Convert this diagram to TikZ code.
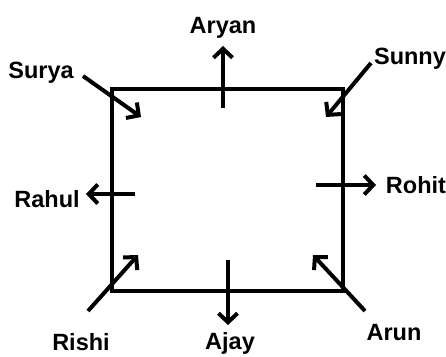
\documentclass[tikz,border=0pt]{standalone}
\usepackage{fontspec}
\setmainfont{Liberation Sans}
\usetikzlibrary{arrows.meta, positioning}
\tikzset {
  square/.style = {draw, line width=4.5pt, color=black},
  line/.style = {-{Straight Barb[length=9pt, width=19pt]}, line width=4pt, color=black},
  person/.style = {font=\bfseries\fontsize{23.5}{26}\selectfont, inner sep=0pt, anchor=base},
}

\begin{document}
\begin{tikzpicture}[x=1pt, y=-1pt]
    \useasboundingbox (0,0) rectangle (446,356);

    % the square
    \coordinate (nw) at (112,89);
    \coordinate (se) at (343,291);
    \draw[square] (nw) rectangle (se);

    % the eight people
    \node[person] (aryan) at (223,33) {Aryan};
    \node[person] (surya) at (41,78) {Surya};
    \node[person] (sunny) at (410,64) {Sunny};
    \node[person] (rahul) at (47,207) {Rahul};
    \node[person] (rohit) at (416,193) {Rohit};
    \node[person] (rishi) at (81,350) {Rishi};
    \node[person] (ajay) at (230,349) {Ajay};
    \node[person] (arun) at (394,340) {Arun};

    % where each one faces
    \coordinate (aryan-from) at (223,108);
    \coordinate (aryan-to) at (223,46);
    \coordinate (surya-from) at (83,76);
    \coordinate (surya-to) at (141,117);
    \coordinate (sunny-from) at (371,63);
    \coordinate (sunny-to) at (326,117);
    \coordinate (rahul-from) at (135,194);
    \coordinate (rahul-to) at (86,194);
    \coordinate (rohit-from) at (316,185);
    \coordinate (rohit-to) at (376,185);
    \coordinate (rishi-from) at (88,311);
    \coordinate (rishi-to) at (138,255);
    \coordinate (ajay-from) at (228,260);
    \coordinate (ajay-to) at (228,325);
    \coordinate (arun-from) at (365,311);
    \coordinate (arun-to) at (313,255);

    \draw[line] (aryan-from) -- (aryan-to);
    \draw[line] (surya-from) -- (surya-to);
    \draw[line] (sunny-from) -- (sunny-to);
    \draw[line] (rahul-from) -- (rahul-to);
    \draw[line] (rohit-from) -- (rohit-to);
    \draw[line] (rishi-from) -- (rishi-to);
    \draw[line] (ajay-from) -- (ajay-to);
    \draw[line] (arun-from) -- (arun-to);

\end{tikzpicture}
\end{document}
